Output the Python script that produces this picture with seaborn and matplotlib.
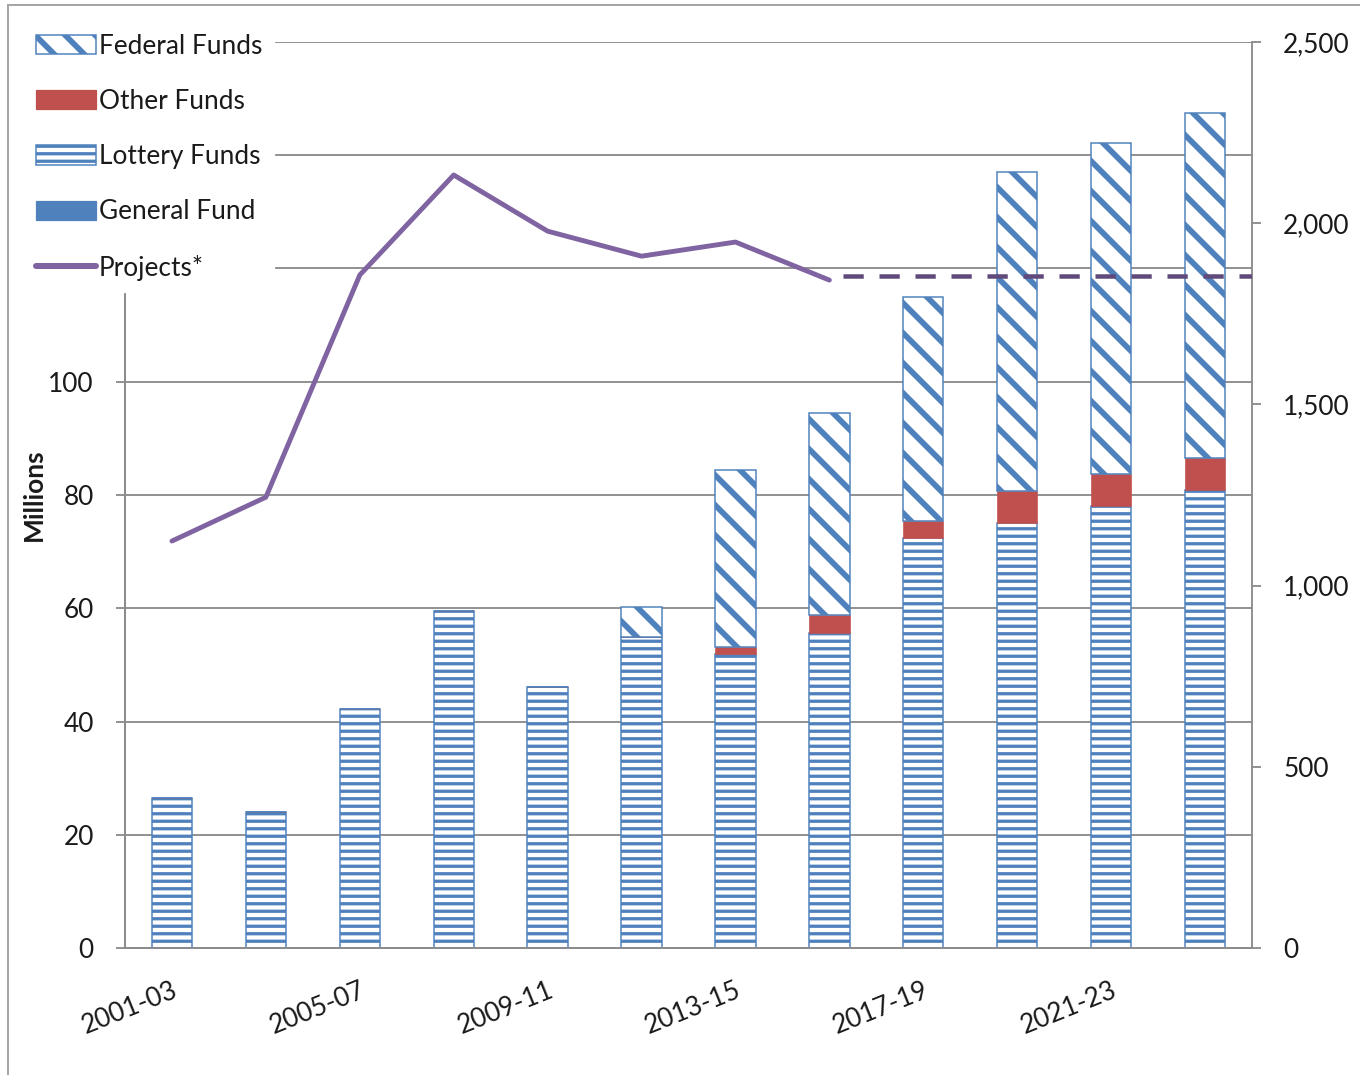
import numpy as np
import pandas as pd
import matplotlib
matplotlib.use("Agg")
import matplotlib.pyplot as plt
import matplotlib.patches as mpatches
import matplotlib.lines as mlines
import seaborn as sns

# ---------------- data ----------------
periods = ["2001-03", "2003-05", "2005-07", "2007-09", "2009-11", "2011-13",
           "2013-15", "2015-17", "2017-19", "2019-21", "2021-23", "2023-25"]
general_fund = [0, 0, 0, 0, 0, 0, 0, 0, 0, 0, 0, 0]
lottery_funds = [26.5, 24.0, 42.2, 59.6, 46.1, 55.0, 51.9, 55.6, 72.4, 75.1, 78.1, 80.9]
other_funds = [0, 0, 0, 0, 0, 0, 1.3, 3.2, 3.0, 5.6, 5.6, 5.6]
federal_funds = [0, 0, 0, 0, 0, 5.3, 31.3, 35.7, 39.6, 56.4, 58.5, 61.0]
projects = [1123, 1244, 1857, 2133, 1978, 1909, 1948, 1843]
projects_target = 1854
left_ticks = [0, 20, 40, 60, 80, 100, 120, 140, 160]
right_ticks = [0, 500, 1000, 1500, 2000, 2500]

# ---------------- style ----------------
sns.set_style("white")
FONT = ["Lato", "DejaVu Sans"]
plt.rcParams["font.family"] = FONT
plt.rcParams["hatch.linewidth"] = 2.6

DPI = 90
W, H = 1360, 1075
BLUE = "#4F81BD"
RED = "#C0504D"
PURPLE = "#8064A2"
DPURPLE = "#604A7B"
GRID = "#8C8C8C"
TXT = "#1a1a1a"
FS = 21


def set_hlw(patches, lw):
    for p in patches:
        if hasattr(p, "set_hatch_linewidth"):
            p.set_hatch_linewidth(lw)


fig = plt.figure(figsize=(W / DPI, H / DPI), dpi=DPI)
ax = fig.add_axes([125 / W, 1 - 948 / H, (1252 - 125) / W, (948 - 42) / H])
ax2 = ax.twinx()

df = pd.DataFrame({"period": periods, "general": general_fund, "lottery": lottery_funds,
                   "other": other_funds, "federal": federal_funds})
x = np.arange(len(df))
bw = 0.43

b0 = np.zeros(len(df))
ax.bar(x, df["general"], bw, bottom=b0, color=BLUE, edgecolor=BLUE, linewidth=1.2, zorder=3)
b1 = b0 + df["general"].to_numpy()
lot = ax.bar(x, df["lottery"], bw, bottom=b1, facecolor="white", edgecolor=BLUE,
             hatch="--", linewidth=1.2, zorder=3)
set_hlw(lot, 2.6)
b2 = b1 + df["lottery"].to_numpy()
ax.bar(x, df["other"], bw, bottom=b2, color=RED, edgecolor=RED, linewidth=0.5, zorder=3)
b3 = b2 + df["other"].to_numpy()
fed = ax.bar(x, df["federal"], bw, bottom=b3, facecolor="white", edgecolor=BLUE,
             hatch="\\", linewidth=1.2, zorder=3)
set_hlw(fed, 4.6)

# grid & axes
ax.set_xlim(-0.5, len(df) - 0.5)
ax.set_ylim(0, 160)
ax.set_yticks(left_ticks)
ax.set_yticklabels([str(v) if v <= 100 else "" for v in left_ticks])
ax.set_axisbelow(True)
ax.grid(axis="y", color=GRID, linewidth=1.5)
ax.grid(axis="x", visible=False)
ax.set_xticks(x)
ax.set_xticklabels([p if i % 2 == 0 else "" for i, p in enumerate(periods)],
                   rotation=22, ha="right", va="top", rotation_mode="anchor")
ax.set_xticks(np.arange(-0.5, len(df), 1), minor=True)
ax.tick_params(axis="x", which="major", length=0, pad=24, labelsize=FS, labelcolor=TXT)
ax.tick_params(axis="x", which="minor", length=7, width=1.5, color=GRID, direction="out")
ax.tick_params(axis="y", length=7, width=1.5, color=GRID, direction="out", pad=18,
               labelsize=FS, labelcolor=TXT, left=True)
ax.set_ylabel("Millions", fontsize=FS, fontweight="bold", color=TXT, labelpad=2)

for a in (ax, ax2):
    for s in a.spines.values():
        s.set_color(GRID)
        s.set_linewidth(1.5)
    a.spines["top"].set_visible(False)
ax.spines["right"].set_visible(False)

# projects line on right axis
proj_df = pd.DataFrame({"x": x[:len(projects)], "projects": projects})
sns.lineplot(data=proj_df, x="x", y="projects", ax=ax2, color=PURPLE, linewidth=3.9,
             zorder=5, legend=False, solid_capstyle="round")
ax2.hlines(projects_target, x[len(projects) - 1] + 0.15, len(df) - 0.5, colors=DPURPLE,
           linestyles=(0, (4.5, 3.5)), linewidth=3.6, zorder=5)
ax2.set_ylim(0, 2500)
ax2.set_yticks(right_ticks)
ax2.set_yticklabels([f"{v:,}" for v in right_ticks])
ax2.set_ylabel("")
ax2.set_xlabel("")
ax2.tick_params(axis="y", length=7, width=1.5, color=GRID, direction="out", pad=18,
                labelsize=FS, labelcolor=TXT, right=True)
ax2.grid(False)
ax.set_xlim(-0.5, len(df) - 0.5)

# legend
h_fed = mpatches.Patch(facecolor="white", edgecolor=BLUE, hatch="\\", linewidth=1.2, label="Federal Funds")
h_oth = mpatches.Patch(facecolor=RED, edgecolor=RED, label="Other Funds")
h_lot = mpatches.Patch(facecolor="white", edgecolor=BLUE, hatch="--", linewidth=1.2, label="Lottery Funds")
h_gen = mpatches.Patch(facecolor=BLUE, edgecolor=BLUE, label="General Fund")
h_prj = mlines.Line2D([], [], color=PURPLE, linewidth=4.8, solid_capstyle="round", label="Projects*")
leg = ax2.legend(handles=[h_fed, h_oth, h_lot, h_gen, h_prj], loc="upper left",
                 bbox_to_anchor=(24 / W, 1 - 22 / H), bbox_transform=fig.transFigure,
                 frameon=True, facecolor="white", edgecolor="white", framealpha=1,
                 fancybox=False, fontsize=FS, handlelength=2.3, handleheight=0.75,
                 handletextpad=0.1, labelspacing=1.15, borderpad=0.45, borderaxespad=0)
lh = getattr(leg, "legend_handles", None) or getattr(leg, "legendHandles", [])
if lh:
    set_hlw([lh[0]], 4.6)
for t in leg.get_texts():
    t.set_color(TXT)
leg.set_zorder(20)

# figure border
fig.patches.append(mpatches.Rectangle((8 / W, -0.05), 1.1, (1 - 5 / H) + 0.05, fill=False,
                                      edgecolor="#A6A6A6", linewidth=1.6,
                                      transform=fig.transFigure, figure=fig))

fig.savefig("out.png", dpi=DPI)
